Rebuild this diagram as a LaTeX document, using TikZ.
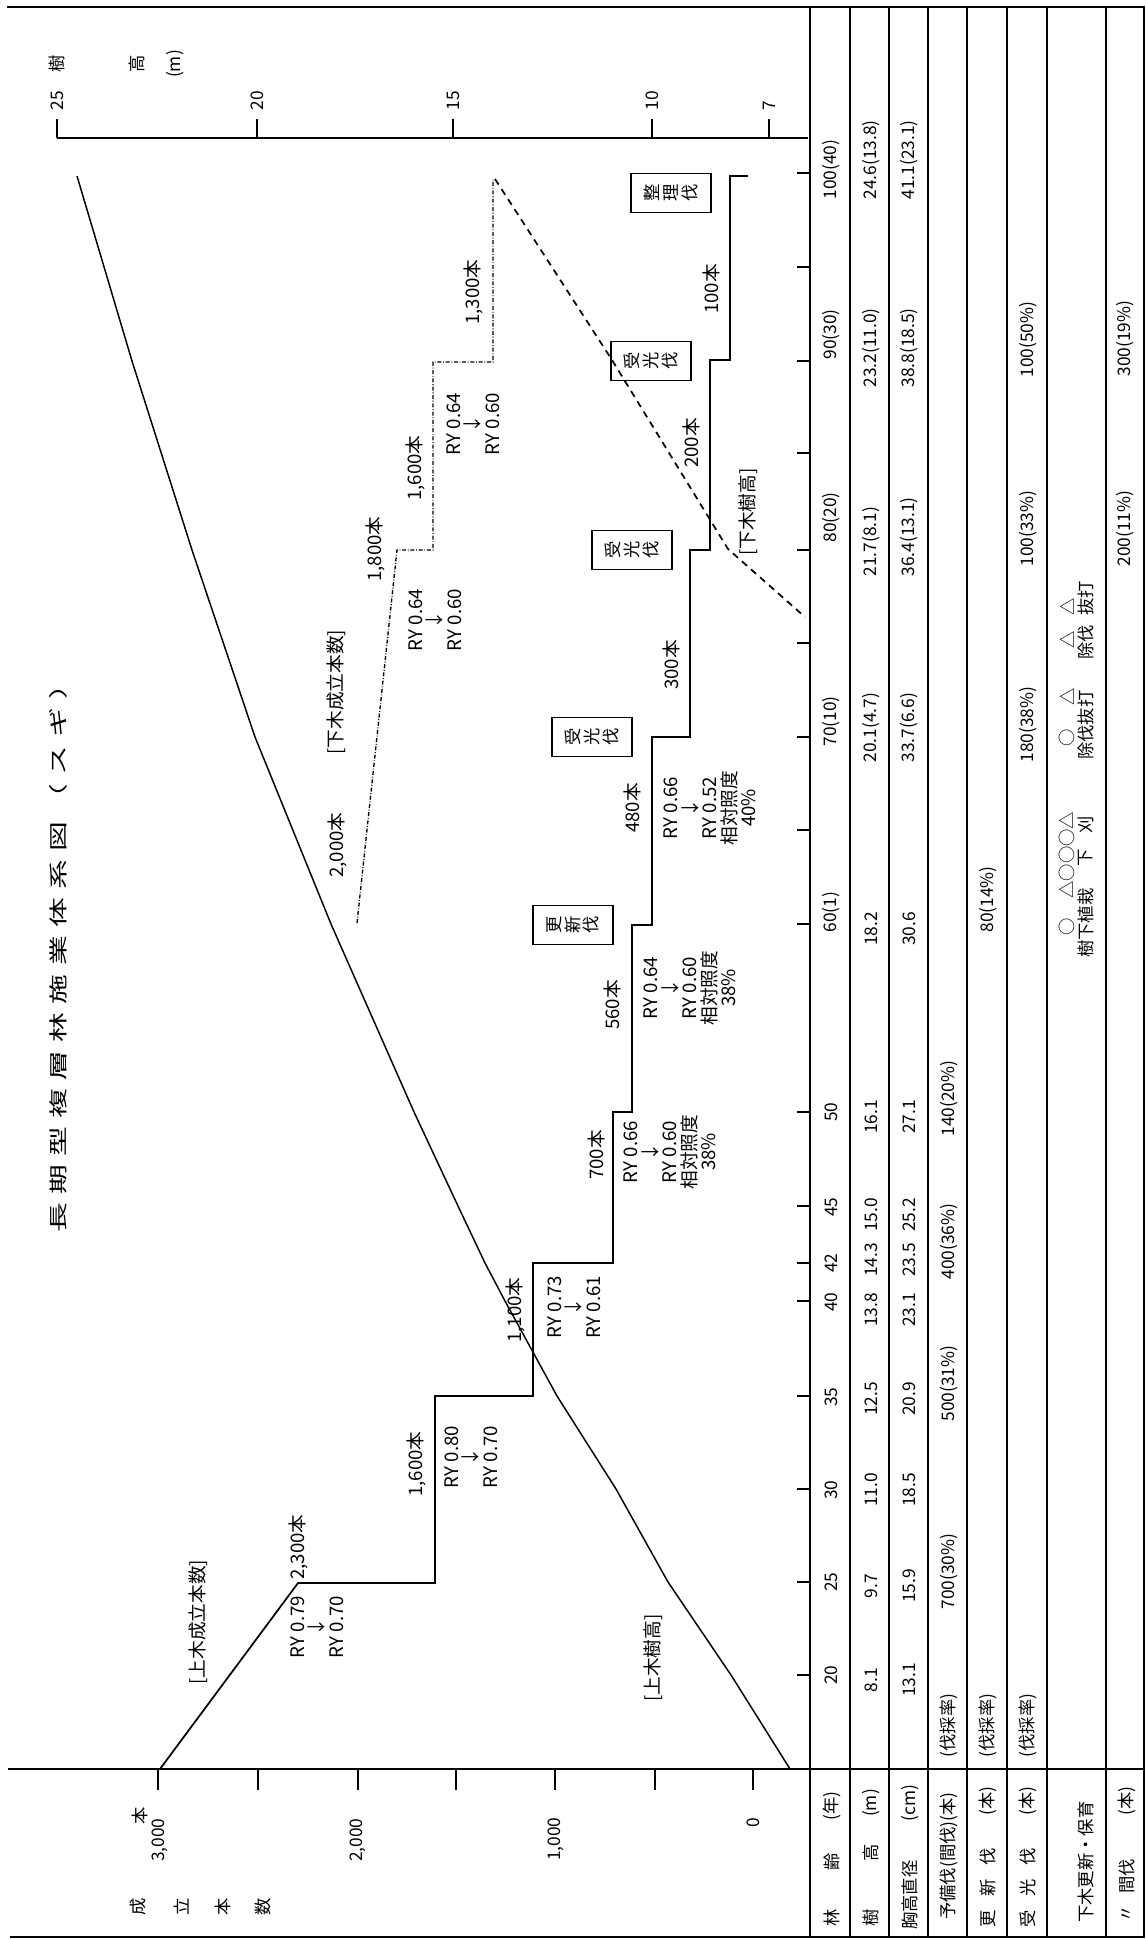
\documentclass[tikz,border=0pt]{standalone}
\usepackage{fontspec}
\usepackage{graphicx}
\setmainfont{Noto Sans CJK JP}
\newcommand{\widech}[1]{\scalebox{1.6}[1]{#1}}

\tikzset{every picture/.style={line width=0.75pt}}
\tikzset{
  lbl/.style={rotate=90,inner sep=0pt,align=center,font=\fontsize{14}{14.6}\selectfont},
  tlbl/.style={lbl,font=\fontsize{13}{14.6}\selectfont},
  cutbox/.style={rotate=90,draw,line width=1.1pt,inner sep=0pt,align=center,
    minimum width=29pt,minimum height=60pt,font=\fontsize{13}{14}\selectfont},
  tbl/.style={line width=1.7pt},
  axisline/.style={line width=1.3pt},
  upper/.style={line width=1.1pt},
  undernum/.style={line width=1pt,dash pattern=on 3pt off 1.3pt on 0.6pt off 1.3pt},
  underht/.style={line width=1.3pt,dash pattern=on 5pt off 4pt},
}

\begin{document}
\begin{tikzpicture}[x=0.75pt,y=0.75pt,yscale=-1,xscale=1]
	\useasboundingbox (0,0) rectangle (1145,1940);
	
	%Straight Lines: frame and table
	\draw[tbl] (7,7) -- (1144,7) -- (1144,1937) -- (10,1937);
	\draw[tbl] (8,1769) -- (1144,1769);
	\foreach \x in {810,850,889,928,967,1007,1047,1106}
		\draw[tbl] (\x,7) -- (\x,1937);
	
	%Straight Lines: axes and ticks
	\draw[axisline] (57,138) -- (808,138);
	\foreach \x in {57,257,453,652,769}
		\draw[axisline] (\x,119) -- (\x,138);
	\foreach \x in {158,258,358,456,555,655,753}
		\draw[axisline] (\x,1769) -- (\x,1790);
	\foreach \y in {1675,1582,1489,1396,1301,1263,1206,1112,924,830,737,643,550,453,361,267,173}
		\draw[axisline] (797,\y) -- (810,\y);
	
	%Straight Lines: upper tree height
	\draw[upper] (790,1769) -- (731,1675) -- (668,1582) -- (616,1489) -- (557,1396) -- (505,1301) -- (485,1263) -- (458,1206) -- (414,1112) -- (331,924) -- (255,737) -- (192,550) -- (132,361) -- (77,176) ;
	%Straight Lines: upper stand count
	\draw[upper,line width=1.3pt] (160,1769) -- (298,1583) -- (435,1583) -- (435,1396) -- (533,1396) -- (533,1263) -- (613,1263) -- (613,1112) -- (632,1112) -- (632,925) -- (652,925) -- (652,737) -- (690,737) -- (690,550) -- (710,550) -- (710,360) -- (730,360) -- (730,176) -- (748,176) ;
	%Straight Lines: under stand count
	\draw[undernum] (357,923) -- (397,550) -- (433,550) -- (433,362) -- (493,362) -- (493,180) ;
	%Straight Lines: under tree height
	\draw[underht] (495,179) -- (612,360) -- (728,549) -- (805,617) ;
	
	% Text Node: title
	\node[rotate=90,inner sep=0pt,font=\fontsize{14}{14}\selectfont] (title) at (58,951) {\makebox[422pt]{\widech{長}\hfill\widech{期}\hfill\widech{型}\hfill\widech{複}\hfill\widech{層}\hfill\widech{林}\hfill\widech{施}\hfill\widech{業}\hfill\widech{体}\hfill\widech{系}\hfill\widech{図}\hfill\widech{（}\hfill\widech{ス}\hfill\widech{ギ}\hfill\widech{）}}};
	
	% Text Node: tree height axis
	\foreach \x/\v in {57/25,257/20,453/15,652/10,769/7}
		\node[tlbl,anchor=west] (h\v) at (\x,111) {\v};
	\node[tlbl] (htl1) at (57,64) {樹};
	\node[tlbl] (htl2) at (137,64) {高};
	\node[tlbl] (htl3) at (175,64) {(m)};
	
	% Text Node: stand count axis
	\node[tlbl] (axunit) at (140,1816) {本};
	\node[tlbl,anchor=east] (ax3000) at (160,1818) {3,000};
	\node[tlbl,anchor=east] (ax2000) at (358,1818) {2,000};
	\node[tlbl,anchor=east] (ax1000) at (556,1817) {1,000};
	\node[tlbl,anchor=east] (ax0) at (753,1817) {0};
	\foreach \x/\c [count=\i] in {138/成,182/立,223/本,263/数}
		\node[tlbl] (axl\i) at (\x,1907) {\c};
	
	% Text Node: upper storey
	\node[lbl] (uppn) at (198,1622) {[上木成立本数]};
	\node[lbl] (uppht) at (653,1658) {[上木樹高]};
	\node[lbl] (n2300) at (298,1547) {2,300本};
	\node[lbl] (ry25) at (317,1627) {RY 0.79\\↓\\RY 0.70};
	\node[lbl] (n1600a) at (416,1464) {1,600本};
	\node[lbl] (ry35) at (471,1457) {RY 0.80\\↓\\RY 0.70};
	\node[lbl] (n1100) at (515,1310) {1,100本};
	\node[lbl] (ry42) at (574,1307) {RY 0.73\\↓\\RY 0.61};
	\node[lbl] (n700) at (596,1155) {700本};
	\node[lbl] (ry50) at (670,1152) {RY 0.66\\↓\\RY 0.60\\相対照度\\38\%};
	\node[lbl] (n560) at (612,1005) {560本};
	\node[lbl] (ry60) at (690,988) {RY 0.64\\↓\\RY 0.60\\相対照度\\38\%};
	\node[lbl] (n480) at (632,808) {480本};
	\node[lbl] (ry70) at (710,808) {RY 0.66\\↓\\RY 0.52\\相対照度\\40\%};
	\node[lbl] (n300) at (671,665) {300本};
	\node[lbl] (n200) at (691,443) {200本};
	\node[lbl] (n100) at (711,289) {100本};
	
	% Text Node: cutting boxes
	\node[cutbox] (renew) at (573,925) {更\\新\\伐};
	\node[cutbox] (light1) at (592,737) {受\\光\\伐};
	\node[cutbox] (light2) at (632,550) {受\\光\\伐};
	\node[cutbox] (light3) at (651,361) {受\\光\\伐};
	\node[cutbox] (final) at (671,193) {整\\理\\伐};
	
	% Text Node: lower storey
	\node[lbl] (lown) at (336,692) {[下木成立本数]};
	\node[lbl] (lowht) at (748,512) {[下木樹高]};
	\node[lbl] (n2000) at (337,845) {2,000本};
	\node[lbl] (n1800) at (375,549) {1,800本};
	\node[lbl] (ry80) at (435,620) {RY 0.64\\↓\\RY 0.60};
	\node[lbl] (n1600b) at (415,468) {1,600本};
	\node[lbl] (ry90) at (473,424) {RY 0.64\\↓\\RY 0.60};
	\node[lbl] (n1300) at (473,292) {1,300本};
	
	% Text Node: table head
	\node[tlbl] (hd1a) at (832,1918) {林};
	\node[tlbl] (hd1b) at (832,1862) {齢};
	\node[tlbl] (hd1c) at (832,1806) {(年)};
	\node[tlbl] (hd2a) at (871,1918) {樹};
	\node[tlbl] (hd2b) at (871,1853) {高};
	\node[tlbl] (hd2c) at (871,1803) {(m)};
	\node[tlbl] (hd3a) at (910,1895) {胸高直径};
	\node[tlbl] (hd3b) at (910,1803) {(cm)};
	\node[tlbl] (hd4) at (949,1856) {予備伐(間伐)(本)};
	\node[tlbl] (hd5a) at (988,1919) {更};
	\node[tlbl] (hd5b) at (988,1888) {新};
	\node[tlbl] (hd5c) at (988,1857) {伐};
	\node[tlbl] (hd5d) at (988,1801) {(本)};
	\node[tlbl] (hd6a) at (1028,1919) {受};
	\node[tlbl] (hd6b) at (1028,1888) {光};
	\node[tlbl] (hd6c) at (1028,1857) {伐};
	\node[tlbl] (hd6d) at (1028,1801) {(本)};
	\node[tlbl] (hd7) at (1086,1862) {下木更新・保育};
	\node[tlbl] (hd8a) at (1127,1914) {〃};
	\node[tlbl] (hd8b) at (1127,1876) {間伐};
	\node[tlbl] (hd8c) at (1127,1801) {(本)};
	
	% Text Node: table body
	\foreach \a/\y in {20/1675,25/1582,30/1490,35/1397,40/1302,42/1263,45/1207,50/1112}
		\node[tlbl] (age\a) at (831,\y) {\a};
	\foreach \t/\y [count=\i] in {60(1)/933,70(10)/747,80(20)/543,90(30)/360,100(40)/200}
		\node[tlbl,anchor=west] (agep\i) at (831,\y) {\t};
	\foreach \y/\h/\d [count=\i] in {1680/8.1/13.1,1586/9.7/15.9,1490/11.0/18.5,1399/12.5/20.9,1310/13.8/23.1,1260/14.3/23.5,1215/15.0/25.2,1117/16.1/27.1,929/18.2/30.6}
		{\node[tlbl] (ht\i) at (871,\y) {\h};
		 \node[tlbl] (dbh\i) at (909,\y) {\d};}
	\foreach \y/\h/\d [count=\i] in {763/20.1(4.7)/33.7(6.6),577/21.7(8.1)/36.4(13.1),388/23.2(11.0)/38.8(18.5),200/24.6(13.8)/41.1(23.1)}
		{\node[tlbl,anchor=west] (htp\i) at (871,\y) {\h};
		 \node[tlbl,anchor=west] (dbhp\i) at (909,\y) {\d};}
	\foreach \x [count=\i] in {949,988,1028}
		\node[tlbl,anchor=west] (rate\i) at (\x,1758) {(伐採率)};
	\foreach \x/\y/\t [count=\i] in {949/1610/700(30\%),949/1422/500(31\%),949/1280/400(36\%),949/1137/140(20\%),988/933/80(14\%),1028/763/180(38\%),1028/567/100(33\%),1028/378/100(50\%),1125/567/200(11\%),1125/377/300(19\%)}
		\node[tlbl,anchor=west] (cut\i) at (\x,\y) {\t};
	
	% Text Node: under storey tending
	\node[tlbl] (sym1) at (1067,927) {○};
	\node[tlbl] (sym2) at (1067,855) {△○○○△};
	\node[tlbl] (wk1) at (1086,923) {樹下植栽};
	\node[tlbl] (wk2) at (1086,858) {下};
	\node[tlbl] (wk3) at (1086,825) {刈};
	\node[tlbl] (sym3) at (1067,738) {○};
	\node[tlbl] (sym4) at (1067,697) {△};
	\node[tlbl] (wk4) at (1086,725) {除伐抜打};
	\node[tlbl] (sym5) at (1067,640) {△};
	\node[tlbl] (wk5) at (1086,642) {除伐};
	\node[tlbl] (sym6) at (1067,607) {△};
	\node[tlbl] (wk6) at (1086,598) {抜打};
	
\end{tikzpicture}
\end{document}
